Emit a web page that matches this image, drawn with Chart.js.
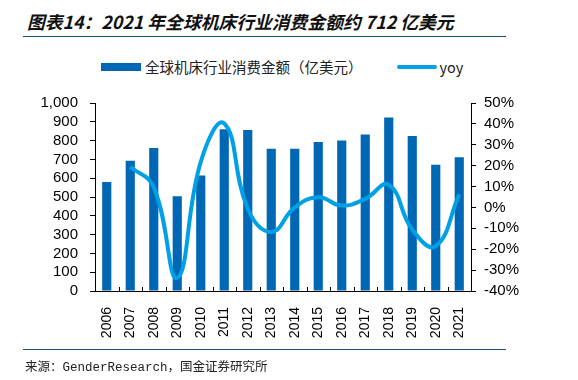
<!DOCTYPE html>
<html>
<head>
<meta charset="utf-8">
<script src="https://cdn.jsdelivr.net/npm/chart.js@4.4.1/dist/chart.umd.min.js"></script>
<style>
  body { margin: 0; background: #fff; width: 578px; height: 380px; position: relative; overflow: hidden; }
  .title { position: absolute; left: 27px; top: 8px; font: italic bold 17.8px "Noto Sans CJK SC", sans-serif; color: #111; white-space: nowrap; }
  .rule { position: absolute; left: 23px; width: 483px; height: 1px; background: #1f4e6e; }
  .legend { position: absolute; top: 56px; left: 101px; font: 14.5px "Noto Sans CJK SC", "Liberation Sans", sans-serif; color: #222; display: flex; align-items: center; white-space: nowrap; }
  .legend .bar { width: 40px; height: 8px; background: #0067b4; margin-right: 4px; }
  .legend .line { width: 40px; height: 4px; border-radius: 2px; background: #00a0e6; margin-left: 34px; margin-right: 3px; }
  .source { position: absolute; left: 25px; top: 356px; font: 12.5px "Liberation Mono", "Noto Sans CJK SC", monospace; color: #222; white-space: nowrap; }
  #wrap { position: absolute; left: 0; top: 82px; width: 578px; height: 268px; }
</style>
</head>
<body>
<div class="title">图表14：2021 年全球机床行业消费金额约 712 亿美元</div>
<div class="rule" style="top:36px"></div>
<div class="legend"><span class="bar"></span><span id="lab0"></span><span class="line"></span><span id="lab1"></span></div>
<div id="wrap"><canvas id="chart"></canvas></div>
<div class="rule" style="top:349px"></div>
<div class="source">来源：GenderResearch，国金证券研究所</div>
<script>
const years = ['2006', '2007', '2008', '2009', '2010', '2011', '2012', '2013',
  '2014', '2015', '2016', '2017', '2018', '2019', '2020', '2021'];
// consumption, 100 million USD
const consumption = [580, 693, 760, 504, 614, 861, 856, 756, 756, 793, 800, 833, 923, 825, 672, 712];
// year-on-year growth, %
const yoy = [null, 19.5, 9.7, -33.7, 21.8, 40.2, -0.6, -11.7, 0.0, 4.9, 0.9, 4.1, 10.8, -10.6, -18.5, 6.3];
const barLabel = '全球机床行业消费金额（亿美元）';
const lineLabel = 'yoy';

document.getElementById('lab0').textContent = barLabel;
document.getElementById('lab1').textContent = lineLabel;

const tickFont = { family: '"Liberation Sans", Arial, sans-serif', size: 15 };

// small inward tick marks on the category axis, at category boundaries
const innerTicks = {
  id: 'innerTicks',
  afterDatasetsDraw(chart) {
    const x = chart.scales.x;
    const ctx = chart.ctx;
    const bottom = chart.chartArea.bottom;
    ctx.save();
    ctx.strokeStyle = '#000';
    ctx.lineWidth = 1;
    for (let i = 0; i <= years.length; i++) {
      const px = Math.round(x.left + (x.width / years.length) * i) + 0.5;
      ctx.beginPath();
      ctx.moveTo(px, bottom);
      ctx.lineTo(px, bottom - 4);
      ctx.stroke();
    }
    ctx.restore();
  }
};

new Chart(document.getElementById('chart'), {
  data: {
    labels: years,
    datasets: [
      {
        type: 'line',
        label: lineLabel,
        data: yoy,
        yAxisID: 'y1',
        borderColor: '#00a0e6',
        borderWidth: 4,
        pointRadius: 0,
        tension: 0.45,
        fill: false,
        order: 0
      },
      {
        type: 'bar',
        label: barLabel,
        data: consumption,
        yAxisID: 'y',
        backgroundColor: '#0067b4',
        categoryPercentage: 1,
        barPercentage: 0.39,
        order: 1
      }
    ]
  },
  options: {
    responsive: true,
    maintainAspectRatio: false,
    animation: false,
    layout: { padding: { top: 2, bottom: 0, left: 0, right: 0 } },
    plugins: { legend: { display: false }, tooltip: { enabled: false } },
    scales: {
      x: {
        grid: { display: false },
        border: { display: true, color: '#000', width: 1 },
        ticks: { color: '#000', font: { ...tickFont, size: 14 }, minRotation: 90, maxRotation: 90, padding: 8, autoSkip: false },
        afterFit: (s) => { s.height = 59; }
      },
      y: {
        position: 'left',
        min: 0, max: 1000,
        grid: { drawOnChartArea: false, drawTicks: true, tickLength: 5, color: '#000' },
        border: { display: true, color: '#000', width: 1 },
        ticks: {
          stepSize: 100, autoSkip: false, color: '#000', font: tickFont, padding: 12,
          callback: (v) => v.toLocaleString('en-US')
        },
        afterFit: (s) => { s.width = 95; }
      },
      y1: {
        position: 'right',
        min: -40, max: 50,
        grid: { drawOnChartArea: false, drawTicks: true, tickLength: 5, color: '#000' },
        border: { display: true, color: '#000', width: 1 },
        ticks: { stepSize: 10, autoSkip: false, color: '#000', font: tickFont, padding: 8, callback: (v) => v + '%' },
        afterFit: (s) => { s.width = 107; }
      }
    }
  },
  plugins: [innerTicks]
});
</script>
</body>
</html>
